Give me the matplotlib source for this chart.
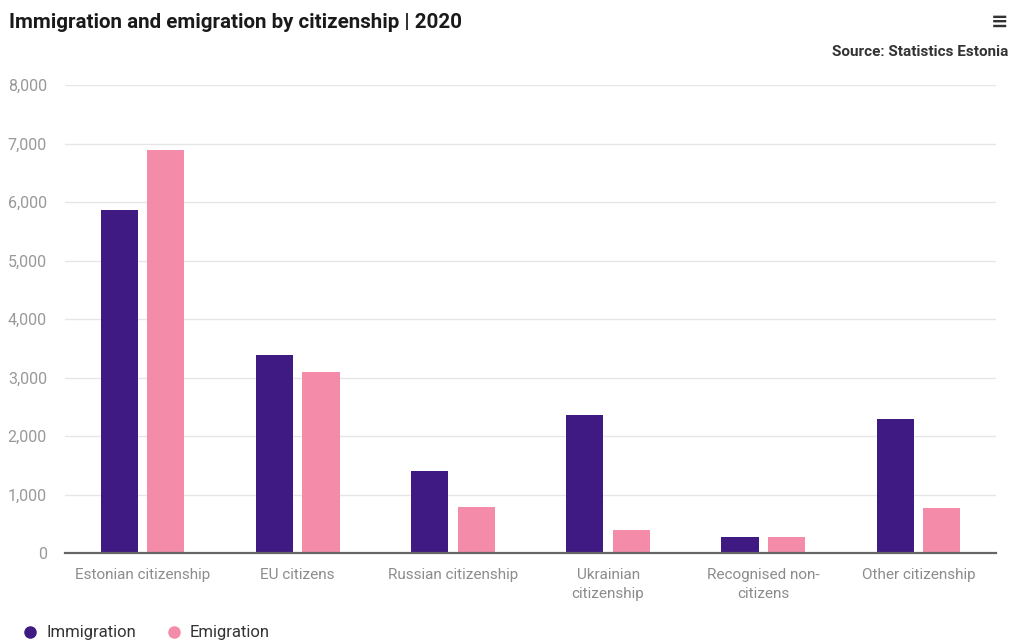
import matplotlib
matplotlib.use("Agg")
import matplotlib.pyplot as plt
import numpy as np
from matplotlib.lines import Line2D
from matplotlib.ticker import FuncFormatter

categories = ["Estonian citizenship", "EU citizens", "Russian citizenship",
              "Ukrainian\ncitizenship", "Recognised non-\ncitizens", "Other citizenship"]
immigration = [5865, 3385, 1400, 2360, 275, 2290]
emigration = [6885, 3095, 785, 400, 270, 765]
yticks = [0, 1000, 2000, 3000, 4000, 5000, 6000, 7000, 8000]

plt.rcParams['font.family'] = ['Roboto', 'DejaVu Sans']

W, H = 1009, 641
fig = plt.figure(figsize=(W / 100, H / 100), dpi=100)
ax = fig.add_axes([65 / W, 1 - 553 / H, (996 - 65) / W, (553 - 85) / H])

c_imm = "#3f1a82"
c_emi = "#f48ca9"
x = np.arange(len(categories))
bw = 0.24
off = 0.15
ax.bar(x - off, immigration, bw, color=c_imm, zorder=3)
ax.bar(x + off, emigration, bw, color=c_emi, zorder=3)

ax.set_xlim(-0.5, len(categories) - 0.5)
ax.set_ylim(0, 8000)
ax.set_yticks(yticks)
ax.yaxis.set_major_formatter(FuncFormatter(lambda v, p: f"{int(v):,}"))
ax.grid(axis="y", color="#e6e6e6", linewidth=1, zorder=0)
ax.set_xticks(x)
ax.set_xticklabels(categories, fontsize=11, color="#8c8c8c", linespacing=1.45, va="top")
ax.tick_params(axis="y", length=0, labelsize=11.5, labelcolor="#999999", pad=13)
ax.tick_params(axis="x", length=0, pad=10.5)
for s in ["top", "right", "left"]:
    ax.spines[s].set_visible(False)
ax.spines["bottom"].set_color("#666666")
ax.spines["bottom"].set_linewidth(1.6)
ax.spines["bottom"].set_zorder(4)

fig.text(9 / W, 1 - 23 / H, "Immigration and emigration by citizenship | 2020",
         fontsize=14.8, fontweight="bold", color="#1a1a1a", va="center", ha="left")
fig.text(1008 / W, 1 - 52 / H, "Source: Statistics Estonia",
         fontsize=11, fontweight="bold", color="#333333", va="center", ha="right")
fig.text(1008 / W, 1 - 22 / H, "≡", fontsize=15, fontweight="bold", color="#333333",
         va="center", ha="right", family="DejaVu Sans")

handles = [Line2D([0], [0], marker="o", linestyle="", markersize=8, color=c_imm),
           Line2D([0], [0], marker="o", linestyle="", markersize=8, color=c_emi)]
fig.legend(handles, ["Immigration", "Emigration"], loc="center left",
           bbox_to_anchor=(22 / W, 1 - 633 / H), ncol=2, frameon=False, borderpad=0,
           borderaxespad=0, fontsize=12, labelcolor="#333333", handlelength=1.0,
           handletextpad=0.45, columnspacing=1.8)

fig.savefig("out.png", dpi=100, facecolor="white")
